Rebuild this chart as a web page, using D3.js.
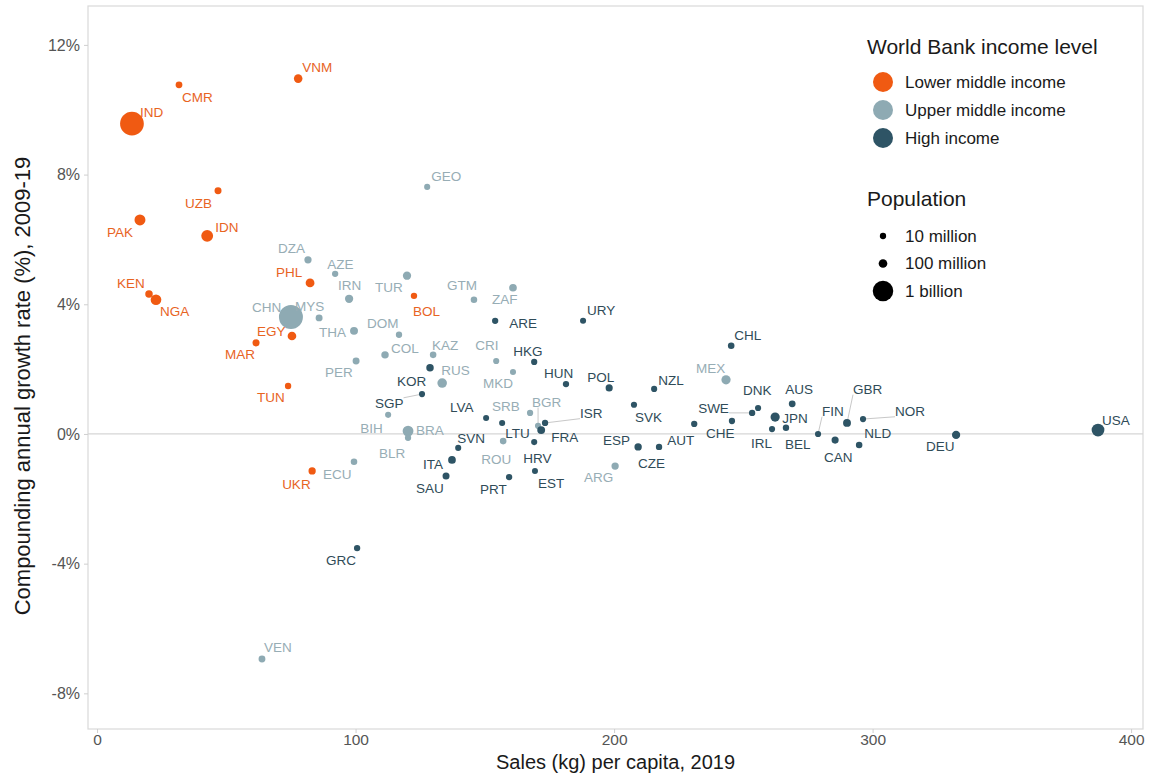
<!DOCTYPE html>
<html>
<head>
<meta charset="utf-8">
<script src="https://cdn.jsdelivr.net/npm/d3@7"></script>
<style>
  body { margin: 0; background: #fff; }
  text { font-family: "Liberation Sans", Arial, sans-serif; }
</style>
</head>
<body>
<div id="chart"></div>
<script>
// ---- data ----
const codes = [
  "VNM","CMR","IND","UZB","PAK","IDN","KEN","NGA","PHL","BOL","EGY","MAR","TUN","UKR",
  "GEO","DZA","AZE","TUR","IRN","GTM","ZAF","CHN","MYS","THA","DOM","COL","KAZ","CRI","PER","RUS","MKD","MEX","SRB","BGR","BIH","BRA","BLR","ECU","ROU","ARG","VEN",
  "URY","ARE","HKG","HUN","POL","KOR","SGP","LVA","CHL","NZL","SVK","SWE","DNK","AUS","JPN","IRL","BEL","CHE","AUT","ESP","CZE","FIN","GBR","NOR","NLD","CAN","DEU","USA","GRC","ITA","SAU","SVN","PRT","HRV","EST","LTU","FRA","ISR"
];
const income = [
  "L","L","L","L","L","L","L","L","L","L","L","L","L","L",
  "U","U","U","U","U","U","U","U","U","U","U","U","U","U","U","U","U","U","U","U","U","U","U","U","U","U","U",
  "H","H","H","H","H","H","H","H","H","H","H","H","H","H","H","H","H","H","H","H","H","H","H","H","H","H","H","H","H","H","H","H","H","H","H","H","H","H"
];
const sales = [
  77.8,31.7,13.5,46.8,16.6,42.6,20.1,22.8,82.4,122.6,75.4,61.5,73.9,83.2,
  127.7,81.6,92.1,119.9,97.5,145.8,160.9,75.0,85.9,99.4,116.8,111.4,130.0,154.4,100.2,133.5,160.9,243.3,167.5,170.6,112.6,120.3,120.3,99.4,157.1,200.4,63.8,
  188.0,154.0,169.1,181.4,198.1,128.8,125.7,150.5,245.3,215.5,207.7,253.4,255.7,268.9,262.3,261.1,266.5,245.6,231.0,209.3,217.4,278.9,290.1,296.3,294.8,285.5,332.3,387.2,100.6,137.3,135.0,139.7,159.4,169.1,169.4,156.7,171.8,173.3
];
const growth = [
  10.96,10.77,9.57,7.50,6.60,6.11,4.32,4.14,4.66,4.26,3.02,2.81,1.48,-1.14,
  7.62,5.37,4.94,4.88,4.17,4.14,4.51,3.61,3.58,3.18,3.06,2.44,2.44,2.25,2.25,1.57,1.91,1.67,0.65,0.25,0.59,0.09,-0.12,-0.86,-0.22,-0.99,-6.94,
  3.49,3.49,2.22,1.54,1.42,2.04,1.23,0.49,2.72,1.39,0.90,0.65,0.80,0.93,0.52,0.15,0.19,0.40,0.31,-0.40,-0.40,0.00,0.34,0.46,-0.34,-0.19,-0.03,0.12,-3.52,-0.80,-1.30,-0.43,-1.33,-0.25,-1.14,0.34,0.12,0.34
];
// population, millions
const population = [
  96,26,1366,33,217,270,52,201,108,11.5,100,36,11.7,44,
  3.7,43,10,83,83,17,59,1398,32,70,10.7,50,18.5,5,32.5,144,2.1,128,6.9,7,3.3,211,9.4,17.4,19.4,45,28.5,
  3.5,9.8,7.5,9.8,38,51.7,5.7,1.9,19,4.9,5.5,10.3,5.8,25.4,126,4.9,11.5,8.6,8.9,47,10.7,5.5,66.8,5.3,17.3,37.6,83,328,10.7,60,34,2.1,10.3,4.1,1.3,2.8,67,9.1
];

const incomeKeys = ["L","U","H"];
const incomeLabels = ["Lower middle income","Upper middle income","High income"];
const popBreaks = [10,100,1000];
const popLabels = ["10 million","100 million","1 billion"];
const xTicks = [0,100,200,300,400];
const yTicks = [12,8,4,0,-4,-8];

// label placement (pixel offsets from the dot: left edge, vertical centre)
const nudge = {
  VNM:[4,-11], CMR:[3,12], IND:[8,-11], UZB:[-33,12], PAK:[-33,12], IDN:[8,-9], KEN:[-32,-11], NGA:[4,12],
  PHL:[-34,-11], BOL:[-1,15], EGY:[-35,-5], MAR:[-31,11], TUN:[-31,11], UKR:[-30,13],
  GEO:[4,-11], DZA:[-30,-12], AZE:[-8,-10], TUR:[-32,12], IRN:[-11,-13], GTM:[-27,-14], ZAF:[-21,12],
  CHN:[-39,-10], MYS:[-24,-12], THA:[-35,1], DOM:[-32,-11], COL:[6,-7], KAZ:[-1,-10], CRI:[-21,-16],
  PER:[-31,11], RUS:[-1,-13], MKD:[-30,11], MEX:[-30,-12], SRB:[-38,-7], BGR:[-6,-24], BIH:[-28,13],
  BRA:[8,-1], BLR:[-29,15], ECU:[-31,12], ROU:[-22,18], ARG:[-31,11], VEN:[2,-12],
  URY:[4,-11], ARE:[14,2], HKG:[-21,-11], HUN:[-22,-11], POL:[-22,-11], KOR:[-33,13], SGP:[-47,9],
  LVA:[-36,-11], CHL:[3,-11], NZL:[4,-9], SVK:[1,12], SWE:[-54,-5], DNK:[-15,-18], AUS:[-7,-15],
  JPN:[7,1], IRL:[-21,14], BEL:[-1,16], CHE:[-26,12], AUT:[-27,16], ESP:[-35,-7], CZE:[-21,16],
  FIN:[4,-23], GBR:[6,-34], NOR:[32,-8], NLD:[5,-12], CAN:[-11,17], DEU:[-30,11], USA:[4,-10],
  GRC:[-31,12], ITA:[-29,4], SAU:[-30,12], SVN:[-1,-10], PRT:[-29,12], HRV:[-11,16], EST:[3,12],
  LTU:[3,10], FRA:[10,7], ISR:[35,-10]
};
const leaders = ["SGP","BGR","ISR","SWE","FIN","GBR","NOR"];

const data = codes.map((c,i) => ({code:c, income:income[i], sales:sales[i], growth:growth[i], pop:population[i]}));

// ---- chart ----
const W = 1149, H = 775;
const panel = {left:88, right:1143, top:6, bottom:729};

const svg = d3.select("#chart").append("svg")
  .attr("width", W).attr("height", H);

const xScale = d3.scaleLinear()
  .domain([-3.5, 404.6])
  .range([panel.left, panel.right]);
const yScale = d3.scaleLinear()
  .domain([-9.1, 13.2])
  .range([panel.bottom, panel.top]);
const rScale = d3.scaleRadial()
  .domain([0, 1400])
  .range([3, 12]);

const fill = d3.scaleOrdinal().domain(incomeKeys).range(["#f05a12","#8eaab3","#2e5465"]);
const textFill = d3.scaleOrdinal().domain(incomeKeys).range(["#e8641f","#97adb5","#2f4b58"]);

// panel border
svg.append("rect")
  .attr("x", panel.left).attr("y", panel.top)
  .attr("width", panel.right-panel.left).attr("height", panel.bottom-panel.top)
  .attr("fill", "none").attr("stroke", "#d9d9d9").attr("stroke-width", 1.2);

// zero line
svg.append("line")
  .attr("x1", panel.left).attr("x2", panel.right)
  .attr("y1", yScale(0)).attr("y2", yScale(0))
  .attr("stroke", "#d6d6d6").attr("stroke-width", 1.2);

// axes
const xAxis = d3.axisBottom(xScale).tickValues(xTicks).tickSize(4).tickPadding(1);
const yAxis = d3.axisLeft(yScale).tickValues(yTicks).tickSize(4).tickPadding(4).tickFormat(d => d + "%");

const gx = svg.append("g").attr("transform", `translate(0,${panel.bottom})`).call(xAxis);
const gy = svg.append("g").attr("transform", `translate(${panel.left},0)`).call(yAxis);
[gx, gy].forEach(g => {
  g.select(".domain").remove();
  g.selectAll(".tick line").attr("stroke", "#cfcfcf");
  g.selectAll(".tick text").attr("fill", "#555").style("font-size", "16px");
});
gx.selectAll(".tick text").style("font-size", "15.5px");

svg.append("text")
  .attr("x", (panel.left+panel.right)/2).attr("y", 769)
  .attr("text-anchor", "middle")
  .style("font-size", "20px").attr("fill", "#1a1a1a")
  .text("Sales (kg) per capita, 2019");

svg.append("text")
  .attr("transform", `translate(30,386) rotate(-90)`)
  .attr("text-anchor", "middle")
  .style("font-size", "22px").attr("fill", "#1a1a1a")
  .text("Compounding annual growth rate (%), 2009-19");

// points
const pts = svg.append("g");
const lbls = svg.append("g");
const lines = pts.append("g");

pts.selectAll("circle.pt")
  .data(data)
  .enter()
  .append("circle")
  .attr("class", "pt")
  .attr("cx", d => xScale(d.sales))
  .attr("cy", d => yScale(d.growth))
  .attr("r", d => rScale(d.pop))
  .attr("fill", d => fill(d.income));

lbls.selectAll("text")
  .data(data)
  .enter()
  .append("text")
  .attr("x", d => xScale(d.sales) + nudge[d.code][0])
  .attr("y", d => yScale(d.growth) + nudge[d.code][1])
  .attr("dy", "0.35em")
  .style("font-size", "13.5px")
  .attr("fill", d => textFill(d.income))
  .text(d => d.code)
  .each(function(d) {
    if (!leaders.includes(d.code)) return;
    const b = this.getBBox();
    const px = xScale(d.sales), py = yScale(d.growth);
    const tx = Math.max(b.x, Math.min(px, b.x + b.width));
    const ty = Math.max(b.y + 2, Math.min(py, b.y + b.height - 2));
    lines.append("line")
      .attr("x1", px).attr("y1", py).attr("x2", tx).attr("y2", ty)
      .attr("stroke", "#c8c8c8").attr("stroke-width", 1);
  });

// legends
const leg = svg.append("g").attr("transform", "translate(867,0)");
leg.append("text").attr("x", 0).attr("y", 54)
  .style("font-size", "21px").attr("fill", "#1a1a1a")
  .text("World Bank income level");
incomeKeys.forEach((k, i) => {
  const y = 82 + i*28;
  leg.append("circle").attr("cx", 16).attr("cy", y).attr("r", 10).attr("fill", fill(k));
  leg.append("text").attr("x", 38).attr("y", y).attr("dy", "0.35em")
    .style("font-size", "17px").attr("fill", "#1a1a1a").text(incomeLabels[i]);
});
leg.append("text").attr("x", 0).attr("y", 206)
  .style("font-size", "21px").attr("fill", "#1a1a1a")
  .text("Population");
popBreaks.forEach((p, i) => {
  const y = 236 + i*27.5;
  leg.append("circle").attr("cx", 16).attr("cy", y).attr("r", rScale(p)).attr("fill", "#000");
  leg.append("text").attr("x", 38).attr("y", y).attr("dy", "0.35em")
    .style("font-size", "17px").attr("fill", "#1a1a1a").text(popLabels[i]);
});
</script>
</body>
</html>
